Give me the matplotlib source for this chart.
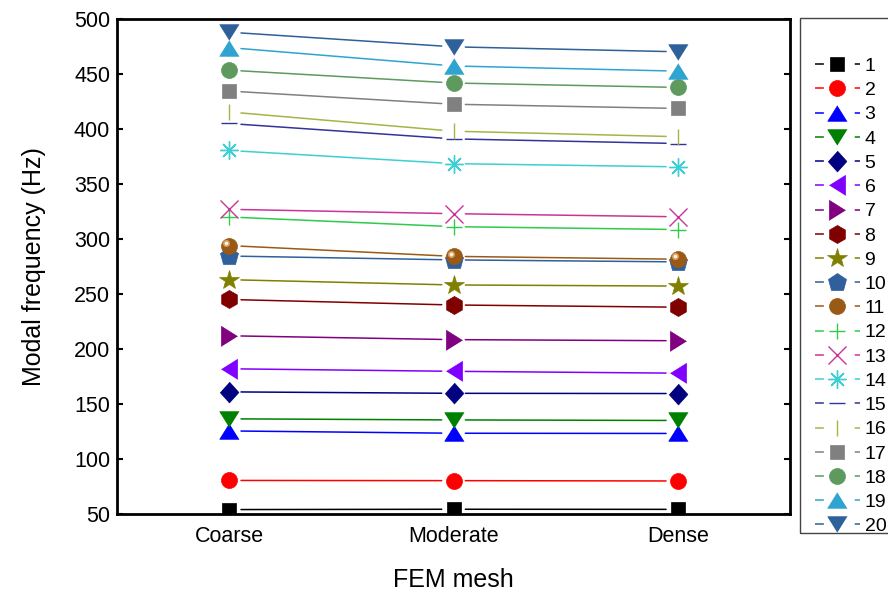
import matplotlib
matplotlib.use("Agg")
import matplotlib.pyplot as plt
from matplotlib.lines import Line2D
from matplotlib.patches import Rectangle
from matplotlib.transforms import ScaledTranslation

plt.rcParams['font.family'] = ['Liberation Sans', 'DejaVu Sans']

meshes = ['Coarse', 'Moderate', 'Dense']
modes = [str(i) for i in range(1, 21)]

# modal frequencies (Hz) per mode for coarse / moderate / dense meshes
freqs = [
    [54.0, 54.3, 54.2],
    [80.5, 80.3, 80.0],
    [125.5, 123.4, 123.2],
    [136.5, 135.5, 135.0],
    [161.0, 159.7, 159.5],
    [182.0, 179.7, 178.0],
    [212.0, 208.5, 207.5],
    [245.0, 240.0, 238.0],
    [263.0, 258.2, 257.2],
    [284.5, 281.0, 279.2],
    [294.0, 284.2, 281.6],
    [320.0, 311.2, 308.6],
    [327.0, 323.0, 320.2],
    [380.5, 368.5, 365.6],
    [405.0, 391.0, 386.8],
    [415.5, 398.0, 393.0],
    [434.5, 422.5, 418.7],
    [453.5, 441.8, 437.8],
    [474.0, 457.3, 452.6],
    [488.0, 474.7, 470.2],
]

colors = ['#000000', '#FF0000', '#0000FF', '#008000', '#000080', '#8000FF',
          '#800080', '#800000', '#808000', '#2F5F9C', '#9A5A16', '#2ECC4A',
          '#CC3399', '#3CCFD4', '#333399', '#A4B545', '#808080', '#5E9A5E',
          '#2FA4D0', '#2E6099']

tri_up = [(0, 0.8), (-1, -0.8), (1, -0.8)]
tri_down = [(0, -0.8), (-1, 0.8), (1, 0.8)]
tri_left = [(-0.8, 0), (0.8, 1), (0.8, -1)]
tri_right = [(0.8, 0), (-0.8, 1), (-0.8, -1)]
diamond = [(0, 1), (0.9, 0), (0, -1), (-0.9, 0)]
markers = ['s', 'o', tri_up, tri_down, diamond, tri_left, tri_right, 'h',
           '*', 'p', 'o', '+', 'x', (8, 2, 0), '_', '|', 's', 'o',
           tri_up, tri_down]
sizes = [10.5, 11.5, 14, 14, 15, 14.5, 14.5, 13, 14.5, 13.5, 11.5, 12,
         12.5, 13, 11.5, 11.5, 10.5, 11.5, 14, 14]

fig = plt.figure(figsize=(8.88, 5.92), dpi=100)
ax = fig.add_axes([0.1318, 0.1318, 0.7579, 0.8361])

x = [1, 2, 3]
handles = []
for i, ys in enumerate(freqs):
    c = colors[i]
    open_marker = markers[i] in ('+', 'x', '_', '|', (8, 2, 0))
    mew = 1.0 if open_marker else 0.5
    # connecting segments leave a small gap around each symbol
    for k in range(len(x) - 1):
        ax.annotate('', xy=(x[k + 1], ys[k + 1]), xytext=(x[k], ys[k]),
                    arrowprops=dict(arrowstyle='-', color=c, lw=1.1,
                                    shrinkA=8.5, shrinkB=8.5))
    ax.plot(x, ys, ls='none', marker=markers[i], ms=sizes[i], color=c,
            mec=c, mew=mew, zorder=3 + i * 0.01)
    handles.append(Line2D([], [], color=c, lw=1.1, ls=(0, (5.8, 20.2)),
                          marker=markers[i], ms=sizes[i], mec=c, mew=mew))

# shaded highlight for the ball symbols of mode 11
shine = ax.transData + ScaledTranslation(-2 / 72, 2 / 72, fig.dpi_scale_trans)
ax.plot(x, freqs[10], ls='none', marker='o', ms=5, color='#D9A56A',
        mew=0, transform=shine, zorder=3.2)
ax.plot(x, freqs[10], ls='none', marker='o', ms=2.5, color='#FFF4E6',
        mew=0, transform=shine, zorder=3.21)

ax.set_xlim(0.5, 3.5)
ax.set_ylim(50, 500)
ax.set_xticks(x)
ax.set_xticklabels(meshes)
ax.set_yticks(range(50, 501, 50))
ax.tick_params(axis='both', direction='in', length=4, width=1.5,
               labelsize=15.5, right=True, top=False)
ax.tick_params(axis='x', pad=9)
ax.tick_params(axis='y', pad=5)
for s in ax.spines.values():
    s.set_linewidth(2)

ax.set_xlabel('FEM mesh', fontsize=18, labelpad=15)
ax.set_ylabel('Modal frequency (Hz)', fontsize=18, labelpad=20)

leg = fig.legend(handles, modes, loc='upper left',
                 bbox_to_anchor=(0.9178, 0.9030), frameon=False,
                 fontsize=14, handlelength=2.29, handletextpad=0.26,
                 borderpad=0, borderaxespad=0, labelspacing=0.34)

fig.patches.append(Rectangle((800 / 888, 1 - 533 / 592), 0.2,
                             (533 - 18) / 592, transform=fig.transFigure,
                             fill=False, lw=1, ec='#444444'))

fig.savefig('out.png', dpi=100)
